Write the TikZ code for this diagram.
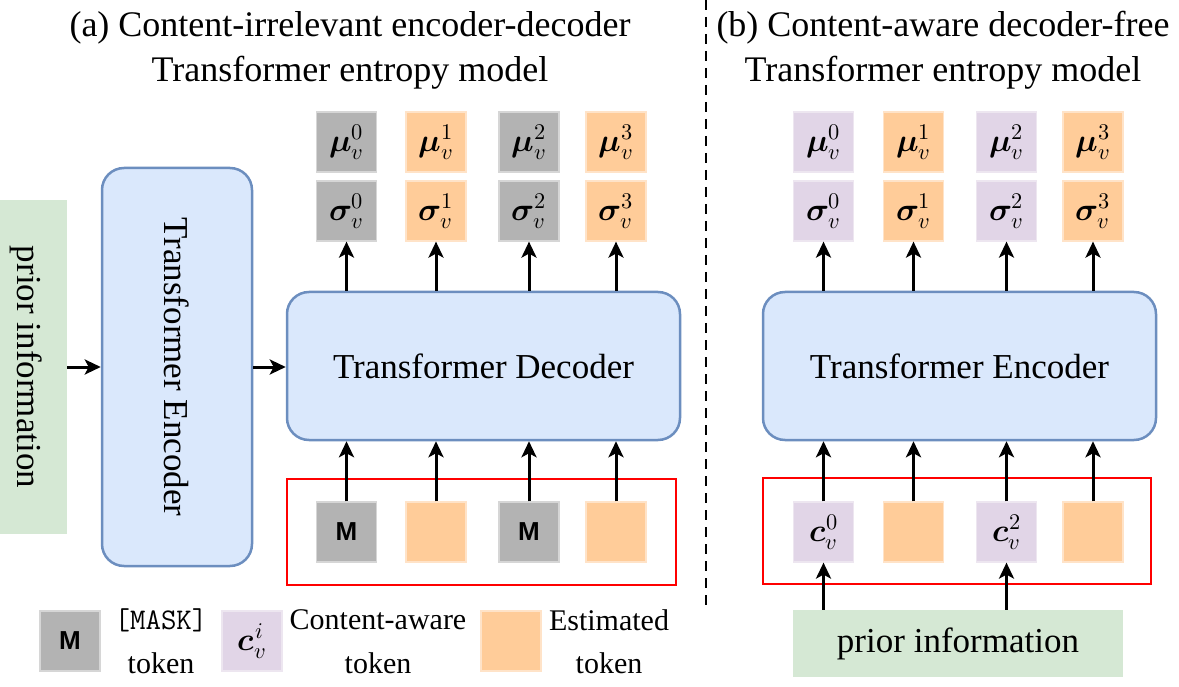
\documentclass[tikz,border=0pt]{standalone}
\usepackage{amsmath}
\usepackage{fontspec}
\usepackage{unicode-math}
\setmainfont{Liberation Serif}
\setmathfont{Latin Modern Math}
\newfontfamily\sansM{Liberation Sans}
\newcommand\mtokfont{\fontsize{26}{31}\selectfont\sansM\bfseries}
\usetikzlibrary{arrows.meta}
\definecolor{cgray}{HTML}{B3B3B3}
\definecolor{cgrayb}{HTML}{D6D6D6}
\definecolor{corange}{HTML}{FFCC99}
\definecolor{corangeb}{HTML}{FFE3C8}
\definecolor{cpurple}{HTML}{E1D5E7}
\definecolor{cpurpleb}{HTML}{EDE6F0}
\definecolor{cgreen}{HTML}{D5E8D4}
\definecolor{cblue}{HTML}{DAE8FC}
\definecolor{cblueb}{HTML}{6C8EBF}
\begin{document}
\begin{tikzpicture}[x=1pt,y=-1pt,
  tok/.style={minimum width=60pt,minimum height=60pt,inner sep=0pt,line width=1.2pt,font=\fontsize{32}{38}\selectfont},
  gtok/.style={tok,fill=cgray,draw=cgrayb},
  otok/.style={tok,fill=corange,draw=corangeb},
  ptok/.style={tok,fill=cpurple,draw=cpurpleb},
  blk/.style={rounded corners=22pt,fill=cblue,draw=cblueb,line width=2.5pt,inner sep=0pt,font=\fontsize{35}{42}\selectfont},
  ttl/.style={anchor=base,inner sep=0pt,font=\fontsize{36}{43}\selectfont},
  lgd/.style={inner sep=0pt,font=\fontsize{30}{36}\selectfont},
  redbox/.style={draw=red,line width=2.8pt,inner sep=0pt},
  arr/.style={line width=3pt,-{Stealth[length=16pt,width=15pt,inset=4pt]}}
]
\useasboundingbox (0,0) rectangle (1179,687);

% titles
\node[ttl] (ta1) at (350,37) {(a) Content-irrelevant encoder-decoder};
\node[ttl] (ta2) at (350,82) {Transformer entropy model};
\node[ttl] (tb1) at (943,37) {(b) Content-aware decoder-free};
\node[ttl] (tb2) at (943,82) {Transformer entropy model};

% dashed separator
\coordinate (dtop) at (706,0);
\coordinate (dbot) at (706,610);
\draw[line width=2.5pt,dash pattern=on 10pt off 7pt] (dtop) -- (dbot);

% ---------- panel (a)
\node[rotate=-90,fill=cgreen,minimum width=333pt,minimum height=82pt,inner sep=0pt,font=\fontsize{35}{42}\selectfont] (pa) at (26,367) {prior information};
\node[blk,rotate=-90,minimum width=398pt,minimum height=150pt] (encA) at (177,367) {Transformer Encoder};
\node[blk,minimum width=393pt,minimum height=148pt] (dec) at (483.5,366) {Transformer Decoder};
\draw[arr] (pa.north) -- (encA.south);
\draw[arr] (encA.north) -- (encA.north -| dec.west);

\node[redbox,minimum width=389pt,minimum height=106pt] (ra) at (481.5,532) {};
\node[gtok] (ta0) at (346.5,532) {\mtokfont M};
\node[otok] (ta1b) at (436,532) {};
\node[gtok] (ta2b) at (529,532) {\mtokfont M};
\node[otok] (ta3b) at (616,532) {};

\node[gtok] (ma0) at (346.5,142) {$\symbfit{\mu}_v^0$};
\node[otok] (ma1) at (436,142) {$\symbfit{\mu}_v^1$};
\node[gtok] (ma2) at (529,142) {$\symbfit{\mu}_v^2$};
\node[otok] (ma3) at (616,142) {$\symbfit{\mu}_v^3$};
\node[gtok] (sa0) at (346.5,211) {$\symbfit{\sigma}_v^0$};
\node[otok] (sa1) at (436,211) {$\symbfit{\sigma}_v^1$};
\node[gtok] (sa2) at (529,211) {$\symbfit{\sigma}_v^2$};
\node[otok] (sa3) at (616,211) {$\symbfit{\sigma}_v^3$};

\foreach \s in {sa0,sa1,sa2,sa3} \draw[arr] (dec.north -| \s) -- (\s.south);
\draw[arr] (ta0.north) -- (ta0.north |- dec.south);
\draw[arr] (ta1b.north) -- (ta1b.north |- dec.south);
\draw[arr] (ta2b.north) -- (ta2b.north |- dec.south);
\draw[arr] (ta3b.north) -- (ta3b.north |- dec.south);

% ---------- panel (b)
\node[blk,minimum width=393pt,minimum height=148pt] (encB) at (959.5,366) {Transformer Encoder};
\node[redbox,minimum width=388pt,minimum height=106pt] (rb) at (957,531) {};
\node[ptok] (cb0) at (823.5,532) {$\symbfit{c}_v^0$};
\node[otok] (cb1) at (913.5,532) {};
\node[ptok] (cb2) at (1006.5,532) {$\symbfit{c}_v^2$};
\node[otok] (cb3) at (1093,532) {};
\node[fill=cgreen,minimum width=330pt,minimum height=67pt,inner sep=0pt,font=\fontsize{35}{42}\selectfont] (pb) at (958,643.5) {prior information};

\node[ptok] (mb0) at (823.5,142) {$\symbfit{\mu}_v^0$};
\node[otok] (mb1) at (913.5,142) {$\symbfit{\mu}_v^1$};
\node[ptok] (mb2) at (1006.5,142) {$\symbfit{\mu}_v^2$};
\node[otok] (mb3) at (1093,142) {$\symbfit{\mu}_v^3$};
\node[ptok] (sb0) at (823.5,211) {$\symbfit{\sigma}_v^0$};
\node[otok] (sb1) at (913.5,211) {$\symbfit{\sigma}_v^1$};
\node[ptok] (sb2) at (1006.5,211) {$\symbfit{\sigma}_v^2$};
\node[otok] (sb3) at (1093,211) {$\symbfit{\sigma}_v^3$};

\foreach \s in {sb0,sb1,sb2,sb3} \draw[arr] (encB.north -| \s) -- (\s.south);
\foreach \s in {cb0,cb1,cb2,cb3} \draw[arr] (\s.north) -- (\s.north |- encB.south);
\draw[arr] (pb.north -| cb0) -- (cb0.south);
\draw[arr] (pb.north -| cb2) -- (cb2.south);

% ---------- legend
\node[gtok] (lg1) at (70,641) {\mtokfont M};
\node[lgd] (lg1a) at (161,620) {\ttfamily [MASK]};
\node[lgd] (lg1b) at (161,663) {token};
\node[ptok] (lg2) at (252,641) {$\symbfit{c}_v^i$};
\node[lgd] (lg2a) at (378,620) {Content-aware};
\node[lgd] (lg2b) at (378,663) {token};
\node[otok] (lg3) at (511,641) {};
\node[lgd] (lg3a) at (609,620) {Estimated};
\node[lgd] (lg3b) at (609,663) {token};
\end{tikzpicture}
\end{document}
